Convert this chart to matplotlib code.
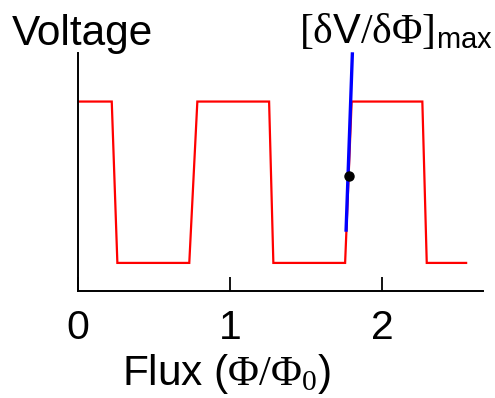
import matplotlib
matplotlib.use("Agg")
import matplotlib.pyplot as plt

plt.rcParams['font.family'] = ['Liberation Sans', 'DejaVu Sans']
plt.rcParams['mathtext.fontset'] = 'custom'
plt.rcParams['mathtext.rm'] = 'Liberation Serif'
plt.rcParams['mathtext.sf'] = 'Liberation Sans'
plt.rcParams['mathtext.it'] = 'Liberation Serif'

# Data (flux in units of Phi0, voltage arbitrary 0..1)
flux = [0.0, 0.222, 0.259, 0.732, 0.785, 1.257, 1.285, 1.757, 1.800, 2.265, 2.294, 2.553]
voltage = [0.796, 0.796, 0.118, 0.118, 0.796, 0.796, 0.118, 0.118, 0.796, 0.796, 0.118, 0.118]
slope_flux = [1.763, 1.805]
slope_voltage = [0.249, 1.003]
point_flux = [1.783]
point_voltage = [0.484]
xticks = [0, 1, 2]
xticklabels = ['0', '1', '2']

fig = plt.figure(figsize=(4.95, 3.98), dpi=100)
ax = fig.add_axes([78/495, 1-291/398, (483-78)/495, (291-53)/398])

ax.plot(flux, voltage, color='#ff0000', lw=1.6, solid_joinstyle='miter')
ax.plot(slope_flux, slope_voltage, color='#0000ff', lw=2.4, clip_on=False, solid_capstyle='butt')
ax.plot(point_flux, point_voltage, 'o', color='black', ms=6.5, clip_on=False)

ax.set_xlim(0, 2.664)
ax.set_ylim(0, 1)
ax.spines['top'].set_visible(False)
ax.spines['right'].set_visible(False)
for s in ('left', 'bottom'):
    ax.spines[s].set_linewidth(1.4)
ax.set_yticks([])
ax.set_xticks(xticks)
ax.set_xticklabels(xticklabels, fontsize=29.5)
ax.tick_params(axis='x', direction='in', length=10, width=1.3, pad=13)

fig.text(12/495, 1-45/398, 'Voltage', fontsize=30.5, ha='left', va='baseline')
fig.text(122/495, 1-385/398, r'Flux ($\mathrm{\Phi/\Phi_0}$)', fontsize=30.5, ha='left', va='baseline')
fig.text(299/495, 1-43/398, r'$\mathrm{[\delta}\mathsf{V}\mathrm{/\delta\Phi]}_{\mathsf{max}}$',
         fontsize=30, ha='left', va='baseline')

fig.savefig('out.png', dpi=100)
